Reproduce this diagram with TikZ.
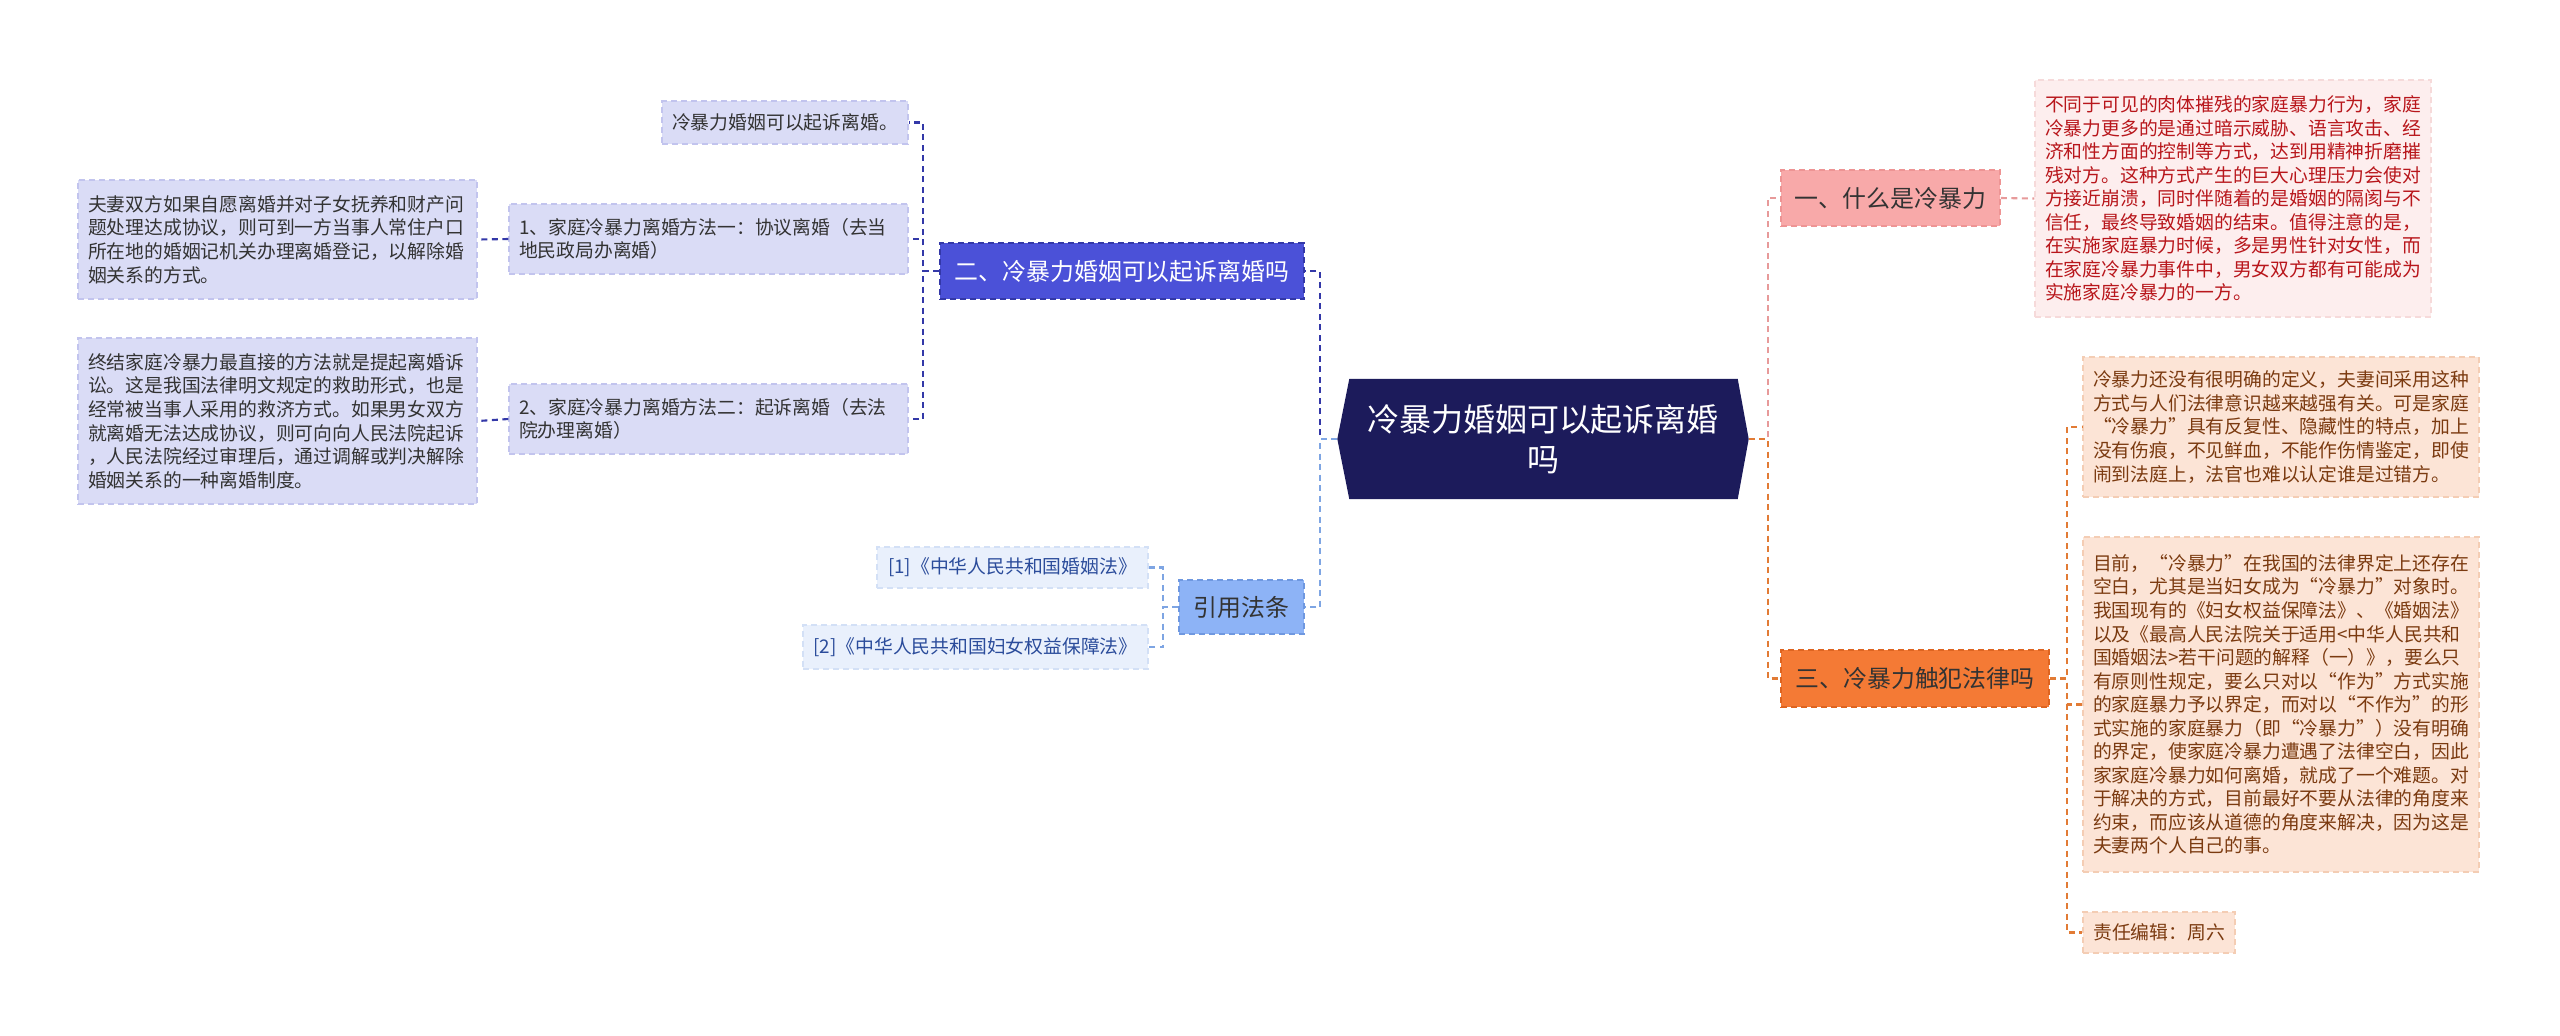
\documentclass[tikz,border=0pt]{standalone}
\usepackage{fontspec}
\newfontfamily\cjk{Noto Sans CJK SC}
\usepackage{tikz}
\usetikzlibrary{positioning,backgrounds}
\definecolor{marino}{HTML}{1C1B5B}
\definecolor{violeta}{HTML}{4B51D8}
\definecolor{violetaosc}{HTML}{3338A8}
\definecolor{lavanda}{HTML}{DADCF6}
\definecolor{lavandaborde}{HTML}{C2C4EE}
\definecolor{celeste}{HTML}{8DB3F6}
\definecolor{celesteborde}{HTML}{6F98E0}
\definecolor{celestelinea}{HTML}{7EA5E3}
\definecolor{hielo}{HTML}{E9F0FC}
\definecolor{hieloborde}{HTML}{D3E0F6}
\definecolor{azultexto}{HTML}{2B4C9B}
\definecolor{rosa}{HTML}{F8A9A9}
\definecolor{rosaborde}{HTML}{EE9494}
\definecolor{rosalinea}{HTML}{E79A9A}
\definecolor{rosaclaro}{HTML}{FDEEEE}
\definecolor{rosaclaroborde}{HTML}{F6DADA}
\definecolor{rojotexto}{HTML}{B8161B}
\definecolor{naranja}{HTML}{F47A35}
\definecolor{naranjaborde}{HTML}{DE6420}
\definecolor{naranjalinea}{HTML}{E27B35}
\definecolor{melocoton}{HTML}{FCE4D6}
\definecolor{melocotonborde}{HTML}{F4CDB4}
\definecolor{marron}{HTML}{7B3A10}
\definecolor{tinta}{HTML}{333333}
\newcommand\leaffont{\cjk\fontsize{5.35}{6.7}\selectfont}
\newcommand\topicfont{\cjk\fontsize{6.8}{8}\selectfont}
\newcommand\rootfont{\cjk\fontsize{9.1}{11.3}\selectfont}
\tikzset{
  rootnode/.style={font=\rootfont,text=white,align=center,inner sep=0pt,
                   minimum width=4.10cm,minimum height=1.19cm},
  topic/.style={font=\topicfont,draw,dash pattern=on 0.06cm off 0.04cm,
                line width=0.5pt,inner sep=0pt},
  leaf/.style={font=\leaffont,draw,dash pattern=on 0.06cm off 0.04cm,
               line width=0.4pt,align=left,inner xsep=0.1cm,inner ysep=0pt},
  link/.style={dash pattern=on 0.06cm off 0.045cm,line width=0.6pt},
}

\begin{document}
\begin{tikzpicture}[line cap=butt]
        \useasboundingbox (0,0) rectangle (25.6,-10.35);
        % --- tema central ---
        \node[rootnode] (root) at (15.43,-4.39) {冷暴力婚姻可以起诉离婚\\吗};
        \begin{scope}[on background layer]
          \fill[white] (0,0) rectangle (25.6,-10.35);
          \fill[marino] ([xshift=0.12cm]root.north west) -- (root.west)
                -- ([xshift=0.12cm]root.south west) -- ([xshift=-0.11cm]root.south east)
                -- (root.east) -- ([xshift=-0.11cm]root.north east) -- cycle;
        \end{scope}
        % --- rama izquierda: 二 ---
        \node[topic,fill=violeta,draw=violetaosc,text=white,minimum width=3.64cm,minimum height=0.56cm]
              (n2) at (11.22,-2.71) {二、冷暴力婚姻可以起诉离婚吗};
        \node[leaf,fill=lavanda,draw=lavandaborde,text=tinta,minimum width=2.45cm,minimum height=0.43cm]
              (n2a) at (7.85,-1.225) {冷暴力婚姻可以起诉离婚。};
        \node[leaf,fill=lavanda,draw=lavandaborde,text=tinta,text width=3.79cm,minimum height=0.70cm]
              (n2b) at (7.085,-2.39) {1、家庭冷暴力离婚方法一：协议离婚（去当\\地民政局办离婚）};
        \node[leaf,fill=lavanda,draw=lavandaborde,text=tinta,text width=3.79cm,minimum height=0.70cm]
              (n2c) at (7.085,-4.19) {2、家庭冷暴力离婚方法二：起诉离婚（去法\\院办理离婚）};
        \node[leaf,fill=lavanda,draw=lavandaborde,text=tinta,text width=3.79cm,minimum height=1.19cm]
              (n2b1) at (2.775,-2.395) {夫妻双方如果自愿离婚并对子女抚养和财产问\\题处理达成协议，则可到一方当事人常住户口\\所在地的婚姻记机关办理离婚登记，以解除婚\\姻关系的方式。};
        \node[leaf,fill=lavanda,draw=lavandaborde,text=tinta,text width=3.79cm,minimum height=1.66cm]
              (n2c1) at (2.775,-4.21) {终结家庭冷暴力最直接的方法就是提起离婚诉\\讼。这是我国法律明文规定的救助形式，也是\\经常被当事人采用的救济方式。如果男女双方\\就离婚无法达成协议，则可向向人民法院起诉\\，人民法院经过审理后，通过调解或判决解除\\婚姻关系的一种离婚制度。};
        % --- rama izquierda: 引用法条 ---
        \node[topic,fill=celeste,draw=celesteborde,text=tinta,minimum width=1.25cm,minimum height=0.54cm]
              (ref) at (12.415,-6.07) {引用法条};
        \node[leaf,fill=hielo,draw=hieloborde,text=azultexto,minimum width=2.71cm,minimum height=0.41cm]
              (ref1) at (10.125,-5.675) {[1]《中华人民共和国婚姻法》};
        \node[leaf,fill=hielo,draw=hieloborde,text=azultexto,minimum width=3.45cm,minimum height=0.44cm]
              (ref2) at (9.755,-6.47) {[2]《中华人民共和国妇女权益保障法》};
        % --- rama derecha: 一 ---
        \node[topic,fill=rosa,draw=rosaborde,text=tinta,minimum width=2.19cm,minimum height=0.56cm]
              (n1) at (18.905,-1.98) {一、什么是冷暴力};
        \node[leaf,fill=rosaclaro,draw=rosaclaroborde,text=rojotexto,text width=3.76cm,minimum height=2.37cm]
              (n1a) at (22.33,-1.985) {不同于可见的肉体摧残的家庭暴力行为，家庭\\冷暴力更多的是通过暗示威胁、语言攻击、经\\济和性方面的控制等方式，达到用精神折磨摧\\残对方。这种方式产生的巨大心理压力会使对\\方接近崩溃，同时伴随着的是婚姻的隔阂与不\\信任，最终导致婚姻的结束。值得注意的是，\\在实施家庭暴力时候，多是男性针对女性，而\\在家庭冷暴力事件中，男女双方都有可能成为\\实施家庭冷暴力的一方。};
        % --- rama derecha: 三 ---
        \node[topic,fill=naranja,draw=naranjaborde,text=tinta,minimum width=2.68cm,minimum height=0.57cm]
              (n3) at (19.15,-6.785) {三、冷暴力触犯法律吗};
        \node[leaf,fill=melocoton,draw=melocotonborde,text=marron,text width=3.76cm,minimum height=1.40cm]
              (n3a) at (22.81,-4.27) {冷暴力还没有很明确的定义，夫妻间采用这种\\方式与人们法律意识越来越强有关。可是家庭\\“冷暴力”具有反复性、隐藏性的特点，加上\\没有伤痕，不见鲜血，不能作伤情鉴定，即使\\闹到法庭上，法官也难以认定谁是过错方。};
        \node[leaf,fill=melocoton,draw=melocotonborde,text=marron,text width=3.76cm,minimum height=3.35cm]
              (n3b) at (22.81,-7.045) {目前，“冷暴力”在我国的法律界定上还存在\\空白，尤其是当妇女成为“冷暴力”对象时。\\我国现有的《妇女权益保障法》、《婚姻法》\\以及《最高人民法院关于适用<中华人民共和\\国婚姻法>若干问题的解释（一）》，要么只\\有原则性规定，要么只对以“作为”方式实施\\的家庭暴力予以界定，而对以“不作为”的形\\式实施的家庭暴力（即“冷暴力”）没有明确\\的界定，使家庭冷暴力遭遇了法律空白，因此\\家家庭冷暴力如何离婚，就成了一个难题。对\\于解决的方式，目前最好不要从法律的角度来\\约束，而应该从道德的角度来解决，因为这是\\夫妻两个人自己的事。};
        \node[leaf,fill=melocoton,draw=melocotonborde,text=marron,minimum width=1.52cm,minimum height=0.41cm]
              (n3c) at (21.59,-9.325) {责任编辑：周六};
        % --- conectores ---
        \draw[link,rosalinea] (root.east) -- ++(0.19,0) |- (n1.west);
        \draw[link,naranjalinea] (root.east) -- ++(0.19,0) |- (n3.west);
        \draw[link,violetaosc] (root.west) -- ++(-0.17,0) |- (n2.east);
        \draw[link,celestelinea] (root.west) -- ++(-0.17,0) |- (ref.east);
        \foreach \c in {n2a,n2b,n2c}{
          \draw[link,violetaosc] (n2.west) -- ++(-0.16,0) |- (\c.east);
        }
        \draw[link,violetaosc] (n2b.west) -- (n2b1.east);
        \draw[link,violetaosc] (n2c.west) -- (n2c1.east);
        \foreach \c in {ref1,ref2}{
          \draw[link,celestelinea] (ref.west) -- ++(-0.15,0) |- (\c.east);
        }
        \draw[link,rosalinea] (n1.east) -- (n1a.west);
        \foreach \c in {n3a,n3b,n3c}{
          \draw[link,naranjalinea] (n3.east) -- ++(0.17,0) |- (\c.west);
        }
      \end{tikzpicture}
\end{document}
